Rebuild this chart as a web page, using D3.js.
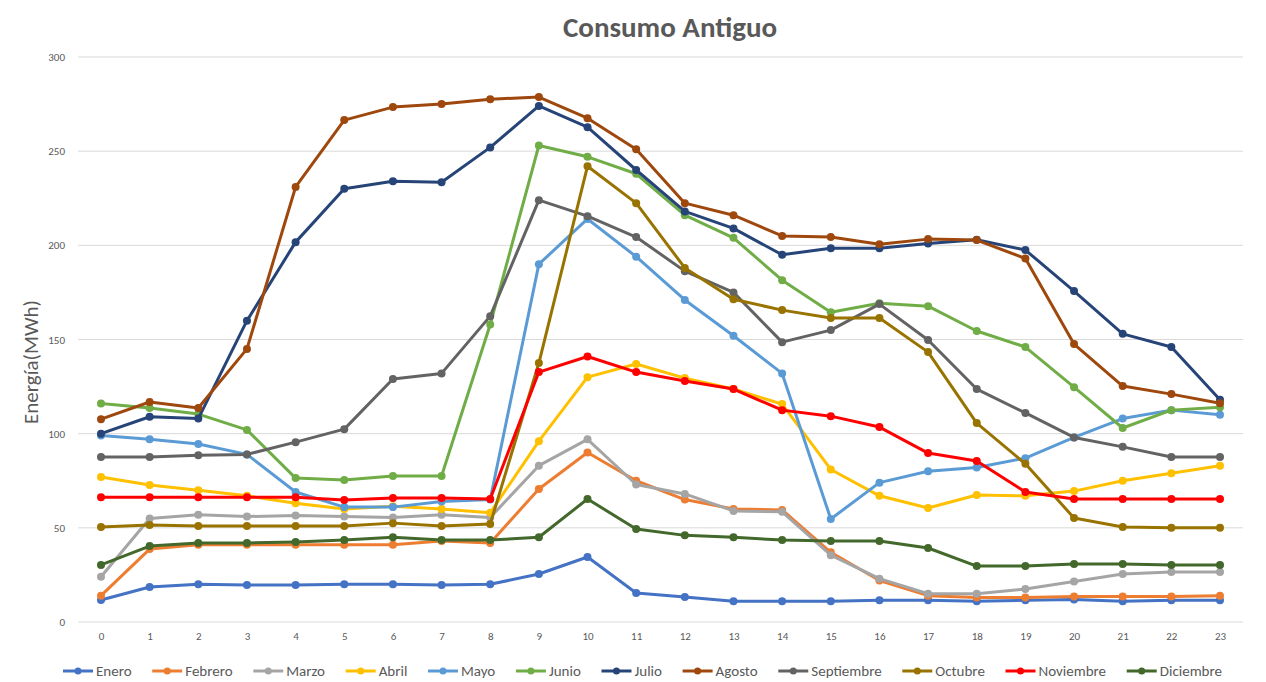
<!DOCTYPE html>
<html><head><meta charset="utf-8">
<script src="https://cdn.jsdelivr.net/npm/d3@7"></script>
<style>
body{margin:0;background:#fff;}
svg{display:block;font-family:"Carlito","Open Sans","Noto Sans",sans-serif;}
</style></head>
<body><svg id="c" width="1266" height="682"></svg>
<script>
const hours = d3.range(0,24);
const months = ["Enero","Febrero","Marzo","Abril","Mayo","Junio","Julio","Agosto","Septiembre","Octubre","Noviembre","Diciembre"];
const colors = ["#4472C4","#ED7D31","#A5A5A5","#FFC000","#5B9BD5","#70AD47","#264478","#9E480E","#636363","#997300","#FF0000","#43682B"];
const yTicks = [0,50,100,150,200,250,300];

const enero      = [11.7,18.6,20,19.6,19.6,20,20,19.6,20,25.5,34.5,15.4,13.3,11,11,11,11.5,11.5,11,11.5,12,11,11.5,11.5];
const febrero    = [14,38.7,41,41,41,41,41,43,42,70.6,90,75,65,60,59.5,37,22,14,13,13,13.5,13.5,13.5,14];
const marzo      = [24,55,57,56,56.5,56,55.5,57,55.5,83,97,73,68,59,58.5,35.5,23,15,15,17.5,21.5,25.5,26.5,26.5];
const abril      = [77,72.7,70,67,63,60,61.5,60,58,96,130,137,129.5,123.7,115.7,81,67,60.5,67.4,67,69.5,75,79,83];
const mayo       = [99,97,94.5,89,69,61,61,64,65,190,214,194,171,152,132,54.7,74,80,82,87,98,108,112.5,110];
const junio      = [116,113.6,110.4,102,76.4,75.4,77.5,77.5,158,253,247,238,216,204,181.5,164.5,169.3,167.7,154.5,146,124.7,103,112.5,114];
const julio      = [100,109,108,160,201.7,230,234,233.5,252,274,262.7,240,218,209,195,198.5,198.5,201,203,197.5,175.7,153,146,118];
const agosto     = [107.7,116.8,113.6,145,231,266.5,273.4,275,277.6,278.7,267.5,251,222.4,216,205,204.4,200.6,203.3,202.8,193,147.6,125.3,121,116.2];
const septiembre = [87.6,87.6,88.6,89,95.5,102.4,129,132,162.4,224,215.5,204.4,186.3,175,148.6,155,168.8,149.7,123.7,111,98,93,87.6,87.6];
const octubre    = [50.4,51.5,51,51,51,51,52.5,51,52,137.5,242,222.4,188,171.4,165.6,161.4,161.4,143.3,105.6,84,55.2,50.4,50,50];
const noviembre  = [66.3,66.3,66.3,66.3,66.3,64.8,65.8,65.8,65.3,132.7,141,132.7,128,123.7,112.5,109.3,103.5,89.7,85.5,69,65.3,65.3,65.3,65.3];
const diciembre  = [30.3,40.3,42,42,42.5,43.5,45,43.5,43.5,45,65.3,49.4,46,45,43.5,43,43,39.3,29.7,29.7,30.8,30.8,30.3,30.3];
const seriesValues = [enero,febrero,marzo,abril,mayo,junio,julio,agosto,septiembre,octubre,noviembre,diciembre];

const svg = d3.select("#c");
const x = d3.scaleLinear().domain([0,23]).range([101,1220]);
const y = d3.scaleLinear().domain([0,300]).range([622,57]);
const textCol = "#595959";

// gridlines
svg.append("g").selectAll("line").data(yTicks).join("line")
  .attr("x1",78).attr("x2",1243).attr("y1",d=>y(d)).attr("y2",d=>y(d))
  .attr("stroke","#d9d9d9").attr("stroke-width",1);

// y axis labels
const yAxis = d3.axisLeft(y).tickValues(yTicks).tickSize(0).tickPadding(0);
const gy = svg.append("g").attr("transform","translate(65,0)").call(yAxis);
gy.select(".domain").remove();
gy.selectAll("text").attr("fill",textCol).style("font-size","11px").style("font-family",'"Carlito","Open Sans",sans-serif');

// x axis labels
const xAxis = d3.axisBottom(x).tickValues(hours).tickSize(0).tickPadding(0).tickFormat(d3.format("d"));
const gx = svg.append("g").attr("transform","translate(0,632)").call(xAxis);
gx.select(".domain").remove();
gx.selectAll("text").attr("fill",textCol).style("font-size","11px").style("font-family",'"Carlito","Open Sans",sans-serif');

// lines
const line = d3.line().x((d,i)=>x(hours[i])).y(d=>y(d));
months.forEach((m,k)=>{
  const g = svg.append("g");
  g.append("path").datum(seriesValues[k]).attr("d",line)
    .attr("fill","none").attr("stroke",colors[k]).attr("stroke-width",3).attr("stroke-linejoin","round");
  g.selectAll("circle").data(seriesValues[k]).join("circle")
    .attr("cx",(d,i)=>x(hours[i])).attr("cy",d=>y(d)).attr("r",4).attr("fill",colors[k]);
});

// title
svg.append("text").attr("x",670).attr("y",37).attr("text-anchor","middle")
  .attr("fill",textCol).style("font-size","29px").style("font-weight","bold").text("Consumo Antiguo");

// y title
svg.append("text").attr("transform","translate(38,362) rotate(-90)").attr("text-anchor","middle")
  .attr("fill",textCol).style("font-size","21px").text("Energía(MWh)");

// legend
const lg = svg.append("g");
const items = lg.selectAll("g").data(months).join("g");
items.append("line").attr("x1",0).attr("x2",30).attr("y1",0).attr("y2",0)
  .attr("stroke",(d,i)=>colors[i]).attr("stroke-width",3);
items.append("circle").attr("cx",15).attr("cy",0).attr("r",3.5).attr("fill",(d,i)=>colors[i]);
items.append("text").attr("x",33).attr("y",5).attr("fill",textCol).style("font-size","15px").text(d=>d);
let widths = [];
items.each(function(){ widths.push(this.querySelector("text").getComputedTextLength()+33); });
const total = 1222-63;
const gap = (total - d3.sum(widths))/(months.length-1);
let cx = 63;
items.attr("transform",(d,i)=>{ const t=`translate(${cx},671)`; cx += widths[i]+gap; return t; });
</script></body></html>
